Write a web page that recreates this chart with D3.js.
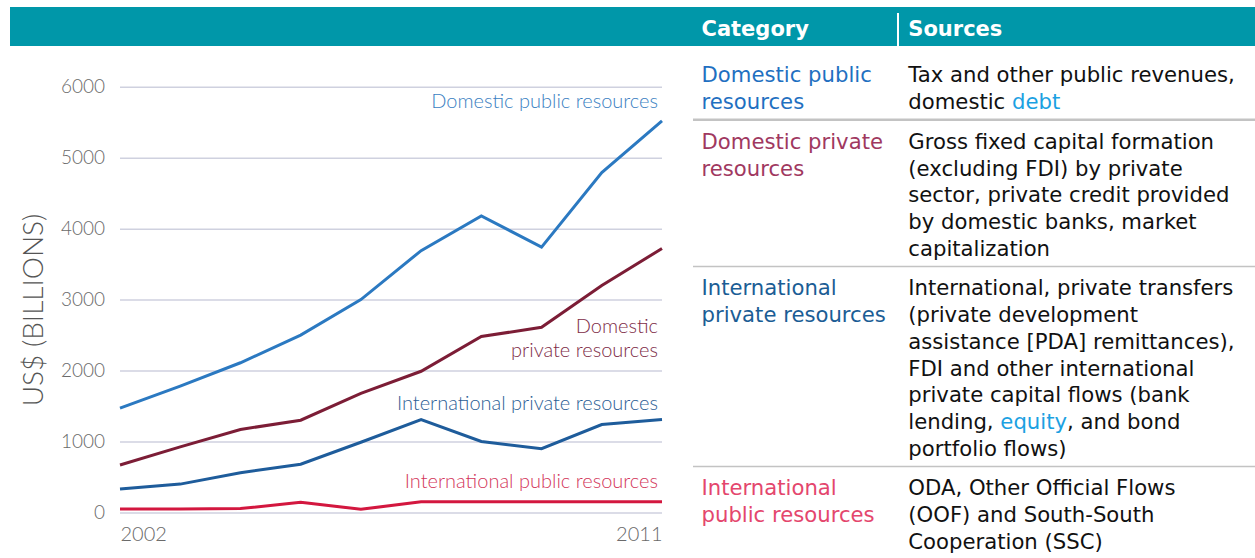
<!DOCTYPE html>
<html>
<head>
<meta charset="utf-8">
<script src="https://cdn.jsdelivr.net/npm/d3@7"></script>
<style>
  body { margin: 0; background: #fff; }
  .chart text { font-family: Lato, "Open Sans", sans-serif; font-weight: 300; }
  .tbl text { font-family: "DejaVu Sans", Verdana, sans-serif; }
</style>
</head>
<body>
<svg id="vis" width="1255" height="558"></svg>
<script>
// values, US$ billions
const years = [2002, 2003, 2004, 2005, 2006, 2007, 2008, 2009, 2010, 2011];
const domesticPublic  = [1470, 1780, 2110, 2500, 3000, 3690, 4180, 3740, 4790, 5520];
const domesticPrivate = [670, 925, 1170, 1300, 1680, 1990, 2480, 2610, 3200, 3720];
const intlPrivate     = [330, 400, 560, 680, 990, 1310, 1000, 900, 1240, 1310];
const intlPublic      = [50, 50, 55, 145, 45, 150, 150, 150, 150, 150];
const yTicks = [0, 1000, 2000, 3000, 4000, 5000, 6000];
const xTicks = [2002, 2011];

const seriesNames = ["Domestic public resources", "Domestic private resources",
  "International private resources", "International public resources"];
const labelLines = [["Domestic public resources"], ["Domestic", "private resources"],
  ["International private resources"], ["International public resources"]];

const headers = ["Category", "Sources"];
const categoryLines = [["Domestic public", "resources"], ["Domestic private", "resources"],
  ["International", "private resources"], ["International", "public resources"]];
// words in {} are link-coloured
const sourceLines = [
  ["Tax and other public revenues,", "domestic {debt}"],
  ["Gross fixed capital formation", "(excluding FDI) by private", "sector, private credit provided",
   "by domestic banks, market", "capitalization"],
  ["International, private transfers", "(private development", "assistance [PDA] remittances),",
   "FDI and other international", "private capital flows (bank", "lending, {equity}, and bond",
   "portfolio flows)"],
  ["ODA, Other Official Flows", "(OOF) and South-South", "Cooperation (SSC)"]
];

const lineColors  = ["#2b79c1", "#7c1d36", "#1e5c9b", "#d3173f"];
const labelColors = ["#3b7fc2", "#7e2c47", "#2c5e95", "#d3365a"];
const catColors   = ["#1f70c1", "#a0385f", "#1b5d95", "#e4466d"];
// label baselines in data units
const labelAt = [5705, 2535, 1440, 340];

const svg = d3.select("#vis");

// header band
svg.append("rect").attr("x", 10).attr("y", 7).attr("width", 1245).attr("height", 39).attr("fill", "#0097a9");

// ---- chart ----
const g = svg.append("g").attr("class", "chart");
const x = d3.scaleLinear().domain([2002, 2011]).range([120, 662]);
const y = d3.scaleLinear().domain([0, 6000]).range([512.5, 86.7]);

const yAxis = g.append("g")
  .attr("transform", "translate(120,0)")
  .call(d3.axisLeft(y).tickValues(yTicks).tickSize(-(662 - 120)).tickPadding(15).tickFormat(d3.format("d")));
yAxis.select(".domain").remove();
yAxis.selectAll("line").attr("stroke", "#cfd1df").attr("stroke-width", 1.5);
yAxis.selectAll("text").attr("fill", "#6a6a6a").attr("font-size", 19);

const xAxis = g.append("g")
  .attr("transform", "translate(0,512.5)")
  .call(d3.axisBottom(x).tickValues(xTicks).tickSize(0).tickPadding(14).tickFormat(d3.format("d")));
xAxis.select(".domain").remove();
xAxis.selectAll("text")
  .attr("fill", "#6a6a6a").attr("font-size", 20)
  .attr("text-anchor", (d, i) => i == 0 ? "start" : "end");

g.append("text")
  .attr("transform", "translate(43,310) rotate(-90)")
  .attr("text-anchor", "middle")
  .attr("fill", "#555")
  .attr("font-size", 28)
  .text("US$ (BILLIONS)");

const line = d3.line().x((d, i) => x(years[i])).y(d => y(d));
const allSeries = [domesticPublic, domesticPrivate, intlPrivate, intlPublic];

g.selectAll("path.series")
  .data(allSeries)
  .enter().append("path")
  .attr("class", "series")
  .attr("d", line)
  .attr("fill", "none")
  .attr("stroke", (d, i) => lineColors[i])
  .attr("stroke-width", 3);

labelLines.forEach((lines, i) => {
  let t = g.append("text")
    .attr("x", x(2011) - 4)
    .attr("y", y(labelAt[i]))
    .attr("text-anchor", "end")
    .attr("fill", labelColors[i])
    .attr("font-size", 20);
  lines.forEach((s, j) => {
    t.append("tspan").attr("x", x(2011) - 4).attr("dy", j == 0 ? 0 : 24.4).text(s);
  });
});

// ---- table ----
const tb = svg.append("g").attr("class", "tbl");
const catX = 701.5, srcX = 908.3, lh = 26.7;

tb.append("text").attr("x", catX).attr("y", 36).attr("fill", "#fff")
  .attr("font-size", 21).attr("font-weight", "bold").text(headers[0]);
tb.append("text").attr("x", srcX).attr("y", 36).attr("fill", "#fff")
  .attr("font-size", 21).attr("font-weight", "bold").text(headers[1]);
tb.append("rect").attr("x", 897).attr("y", 13).attr("width", 2).attr("height", 33).attr("fill", "#fff");

let base = 82.3;
seriesNames.forEach((name, i) => {
  categoryLines[i].forEach((s, j) => {
    tb.append("text").attr("x", catX).attr("y", base + j * lh)
      .attr("fill", catColors[i]).attr("font-size", 21.2).text(s);
  });
  sourceLines[i].forEach((s, j) => {
    let t = tb.append("text").attr("x", srcX).attr("y", base + j * lh)
      .attr("fill", "#111").attr("font-size", 21.2);
    s.split(/(\{[^}]*\})/).forEach(part => {
      if (!part) return;
      let link = part[0] == "{";
      t.append("tspan").attr("fill", link ? "#1ba1e2" : null).text(link ? part.slice(1, -1) : part);
    });
  });
  let n = Math.max(categoryLines[i].length, sourceLines[i].length);
  let sep = base + (n - 1) * lh + 10.8;
  if (i < seriesNames.length - 1) {
    tb.append("line").attr("x1", 693).attr("x2", 1255).attr("y1", sep).attr("y2", sep)
      .attr("stroke", "#c3c3c3").attr("stroke-width", i == 0 ? 2.5 : 1.5);
  }
  base = sep + 29;
});
</script>
</body>
</html>
